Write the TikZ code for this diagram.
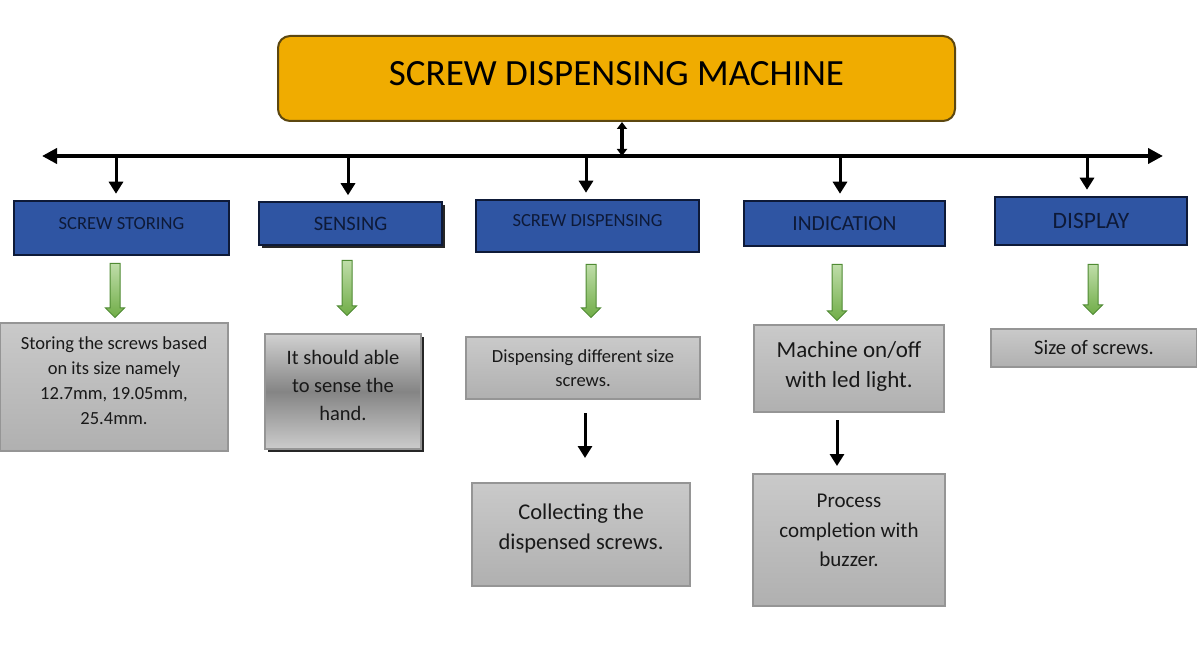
\documentclass[tikz,border=0pt]{standalone}
\usepackage{fontspec}
\setmainfont{Carlito}
\usepackage{tikz}
\usetikzlibrary{arrows.meta,shapes.arrows,shadows}
\definecolor{mainorange}{HTML}{F0AC00}
\definecolor{mainedge}{HTML}{5C4710}
\definecolor{catblue}{HTML}{2F55A3}
\definecolor{catedge}{HTML}{0E1A38}
\definecolor{infoedge}{HTML}{959595}
\definecolor{arrowgreen}{HTML}{70AD47}
\definecolor{arrowlight}{HTML}{BFDDA9}
\definecolor{arrowedge}{HTML}{4F8A33}
\tikzset{
  mainbox/.style={draw=mainedge, line width=2pt, fill=mainorange, rounded corners=12pt,
    minimum width=677pt, minimum height=85pt, font=\fontsize{37}{44}\selectfont},
  catbox/.style={draw=catedge, line width=2.5pt, fill=catblue, text=catedge,
    font=\fontsize{18.5}{22}\selectfont},
  infobox/.style={draw=infoedge, line width=2pt, top color=black!21, bottom color=black!31,
    text=black!90, align=center},
  greenarrow/.style={single arrow, shape border rotate=270, draw=arrowedge, line width=1pt,
    top color=arrowlight, bottom color=arrowgreen, inner sep=4.5pt,
    single arrow head extend=4.5pt, single arrow head indent=0pt},
  blk/.style={line width=3pt, -{Triangle[length=12pt,width=14pt]}},
  shadowed/.style={drop shadow={shadow xshift=3pt, shadow yshift=-3pt, fill=black!85, opacity=1}}
}
\begin{document}
\begin{tikzpicture}[x=1pt,y=-1pt]
\useasboundingbox (0,0) rectangle (1197,652);
%\draw [color=gray, very thin] (0,0) grid[step=50] (1197,652);
\node [mainbox, text depth=11pt] (machine) at (616.5,78.5) {SCREW DISPENSING MACHINE};

% categories
\node [catbox, text depth=10pt, minimum width=215pt, minimum height=54pt] (storing) at (121.5,228) {SCREW STORING};
\node [catbox, shadowed, line width=1.5pt, minimum width=183pt, minimum height=43pt,
  font=\fontsize{20.5}{24}\selectfont] (sensing) at (350.5,223.5) {SENSING};
\node [catbox, text depth=12pt, minimum width=223pt, minimum height=52pt] (dispensing) at (587.5,226) {SCREW DISPENSING};
\node [catbox, minimum width=201pt, minimum height=45pt,
  font=\fontsize{21.5}{25}\selectfont] (indication) at (844.5,223.5) {INDICATION};
\node [catbox, minimum width=192pt, minimum height=48pt,
  font=\fontsize{23.5}{27}\selectfont] (display) at (1091,221) {DISPLAY};

% details
\node [infobox, text depth=13pt, minimum width=228pt, minimum height=128pt,
  font=\fontsize{18.5}{25}\selectfont] (storingtxt) at (114,387)
  {Storing the screws based\\on its size namely\\12.7mm, 19.05mm,\\25.4mm.};
\node [infobox, shadowed, text depth=13pt, minimum width=156pt, minimum height=115pt,
  top color=black!18, bottom color=black!20, middle color=black!48,
  font=\fontsize{20.5}{28}\selectfont] (sensingtxt) at (343,391.5)
  {It should able\\to sense the\\hand.};
\node [infobox, minimum width=234pt, minimum height=62pt,
  font=\fontsize{18.5}{24}\selectfont] (dispensingtxt) at (583,368)
  {Dispensing different size\\screws.};
\node [infobox, text depth=16pt, minimum width=218pt, minimum height=103pt,
  font=\fontsize{22.5}{30}\selectfont] (collecttxt) at (581,534.5)
  {Collecting the\\dispensed screws.};
\node [infobox, text depth=8pt, minimum width=190pt, minimum height=87pt,
  font=\fontsize{23}{30}\selectfont] (indicationtxt) at (849,368.5)
  {Machine on/off\\with led light.};
\node [infobox, text depth=19pt, minimum width=192pt, minimum height=132pt,
  font=\fontsize{21}{29.5}\selectfont] (buzzertxt) at (849,540)
  {Process\\completion with\\buzzer.};
\node [infobox, minimum width=206pt, minimum height=38pt,
  font=\fontsize{20.5}{24}\selectfont] (displaytxt) at (1094,348) {Size of screws.};

% main bus
\coordinate (busl) at (42,156);
\coordinate (busr) at (1163,156);
\coordinate (busm) at (622,156);
\draw [line width=4pt, {Triangle[length=15pt,width=15pt]}-{Triangle[length=15pt,width=15pt]}] (busl) -- (busr);
\draw [line width=3.5pt, {Triangle[length=7pt,width=10pt]}-{Triangle[length=7pt,width=10pt]}] (busm) -- (busm |- machine.south);
\foreach \x/\n in {116/storing, 348/sensing, 586/dispensing, 840/indication, 1087/display} {
  \coordinate (tap-\n) at (\x,156);
  \draw [blk, shorten >=6pt] (tap-\n) -- (tap-\n |- \n.north);
}

% green arrows
\node [greenarrow, minimum height=54pt] (ga1) at (115,288) {};
\node [greenarrow, minimum height=55pt] (ga2) at (347,285.5) {};
\node [greenarrow, minimum height=53pt] (ga3) at (591,288.5) {};
\node [greenarrow, minimum height=56pt] (ga4) at (837,290) {};
\node [greenarrow, minimum height=50pt] (ga5) at (1093,287) {};

% second level
\draw [blk, shorten <=13pt, shorten >=24pt] ([xshift=2pt]dispensingtxt.south) -- ([xshift=2pt]dispensingtxt.south |- collecttxt.north);
\draw [blk, shorten <=7pt, shorten >=7pt] ([xshift=-12pt]indicationtxt.south) -- ([xshift=-12pt]indicationtxt.south |- buzzertxt.north);
\end{tikzpicture}
\end{document}
